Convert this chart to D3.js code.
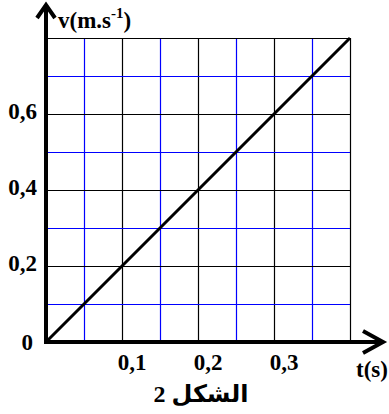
<!DOCTYPE html>
<html>
<head>
<meta charset="utf-8">
<script src="https://cdn.jsdelivr.net/npm/d3@7"></script>
<style>
  html, body { margin: 0; padding: 0; background: #fff; }
  #wrap { position: relative; width: 389px; height: 414px; }
  svg text { font-family: "Liberation Serif", "Times New Roman", "DejaVu Serif", serif; font-weight: bold; fill: #000; }
  .cap { position: absolute; left: 101px; width: 200px; top: 380px; text-align: center;
         font-family: "Liberation Serif", "DejaVu Sans", serif; font-weight: bold; font-size: 24px; line-height: 28px; color: #000; }
</style>
</head>
<body>
<div id="wrap"><svg id="chart" width="389" height="414"></svg></div>
<script>
// ---- data ----
const tValues = [0, 0.4];          // t (s)
const vValues = [0, 0.8];          // v (m/s)
const xTickValues = [0.1, 0.2, 0.3];
const xTickLabels = ["0,1", "0,2", "0,3"];
const yTickValues = [0.2, 0.4, 0.6];
const yTickLabels = ["0,2", "0,4", "0,6"];
const xGridValues = [0.05, 0.1, 0.15, 0.2, 0.25, 0.3, 0.35, 0.4];
const yGridValues = [0.1, 0.2, 0.3, 0.4, 0.5, 0.6, 0.7, 0.8];
const xTitle = "t(s)";
const yTitle = "v(m.s";
const yTitleSup = "-1";
const figCaption = "الشكل 2";

const svg = d3.select("#chart");
const x = d3.scaleLinear().domain([0, 0.4]).range([46, 350]);
const y = d3.scaleLinear().domain([0, 0.8]).range([342, 38]);

const isMajor = (v, step) => Math.abs(Math.round(v / step) * step - v) < 1e-9;

// vertical grid lines
const gx = svg.append("g")
  .attr("transform", `translate(0,${y(0)})`)
  .call(d3.axisBottom(x).tickValues(xGridValues).tickSize(-(y(0) - y(0.8))).tickFormat(""));
gx.select(".domain").remove();
gx.selectAll(".tick line")
  .attr("stroke", d => isMajor(d, 0.1) ? "#000" : "#0000ff")
  .attr("stroke-width", 1.2);

// horizontal grid lines
const gy = svg.append("g")
  .attr("transform", `translate(${x(0)},0)`)
  .call(d3.axisLeft(y).tickValues(yGridValues).tickSize(-(x(0.4) - x(0))).tickFormat(""));
gy.select(".domain").remove();
gy.selectAll(".tick line")
  .attr("stroke", d => isMajor(d, 0.2) ? "#000" : "#0000ff")
  .attr("stroke-width", 1.2);

// data line
svg.append("path")
  .datum(tValues.map((t, i) => [t, vValues[i]]))
  .attr("d", d3.line().x(d => x(d[0])).y(d => y(d[1])))
  .attr("fill", "none").attr("stroke", "#000").attr("stroke-width", 3);

// axes with arrows
svg.append("line").attr("x1", x(0)).attr("x2", 383).attr("y1", y(0)).attr("y2", y(0))
  .attr("stroke", "#000").attr("stroke-width", 4);
svg.append("path").attr("d", `M363,331 L383,${y(0)} L363,353`)
  .attr("fill", "none").attr("stroke", "#000").attr("stroke-width", 4).attr("stroke-linejoin", "miter");
svg.append("line").attr("x1", x(0)).attr("x2", x(0)).attr("y1", y(0) + 2).attr("y2", 5)
  .attr("stroke", "#000").attr("stroke-width", 4);
svg.append("path").attr("d", `M37,18 L${x(0)},5 L55,18`)
  .attr("fill", "none").attr("stroke", "#000").attr("stroke-width", 4).attr("stroke-linejoin", "miter");

// tick labels
svg.selectAll(".xl").data(xTickValues).enter().append("text")
  .attr("x", d => x(d) + 10).attr("y", 370)
  .attr("text-anchor", "middle").attr("font-size", 23)
  .text((d, i) => xTickLabels[i]);
svg.selectAll(".yl").data(yTickValues).enter().append("text")
  .attr("x", 37).attr("y", d => y(d) + 5)
  .attr("text-anchor", "end").attr("font-size", 23)
  .text((d, i) => yTickLabels[i]);
svg.append("text").attr("x", 33).attr("y", 350).attr("text-anchor", "end")
  .attr("font-size", 23).text("0");

// axis titles
svg.append("text").attr("x", 372).attr("y", 377).attr("text-anchor", "middle")
  .attr("font-size", 23).text(xTitle);
const yt = svg.append("text").attr("x", 58).attr("y", 28).attr("font-size", 23);
yt.append("tspan").text(yTitle);
yt.append("tspan").attr("dy", -10).attr("font-size", 15).text(yTitleSup);
yt.append("tspan").attr("dy", 10).text(")");

// caption (HTML, right-to-left)
d3.select("#wrap").append("div").attr("class", "cap").attr("dir", "rtl").attr("lang", "ar").text(figCaption);
</script>
</body>
</html>
